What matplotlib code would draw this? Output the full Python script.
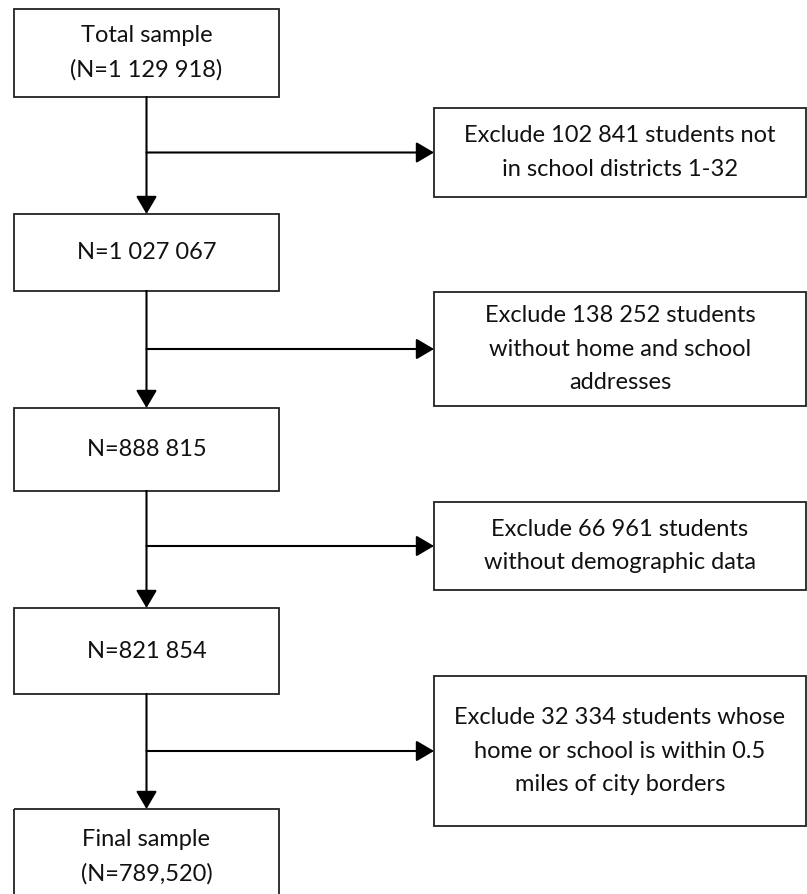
import matplotlib
matplotlib.use('Agg')
import matplotlib.pyplot as plt
from matplotlib.patches import Rectangle

# Flowchart content
main_labels = [
    "Total sample\n(N=1 129 918)",
    "N=1 027 067",
    "N=888 815",
    "N=821 854",
    "Final sample\n(N=789,520)",
]
exclude_labels = [
    "Exclude 102 841 students not\nin school districts 1-32",
    "Exclude 138 252 students\nwithout home and school\naddresses",
    "Exclude 66 961 students\nwithout demographic data",
    "Exclude 32 334 students whose\nhome or school is within 0.5\nmiles of city borders",
]

# Layout in pixel units (y grows downward)
W, H = 807, 894
left_x0, left_x1 = 14, 279
main_tops = [9, 214, 408, 608, 809]
main_bottoms = [97, 291, 491, 694, 920]
right_x0, right_x1 = 434, 806
excl_tops = [108, 292, 502, 676]
excl_bottoms = [197, 406, 590, 826]

FONT = 'Lato'
FS = 17
LINE = '#000000'

fig = plt.figure(figsize=(W / 100, H / 100), dpi=100)
ax = fig.add_axes([0, 0, 1, 1])
ax.set_xlim(0, W)
ax.set_ylim(H, 0)
ax.axis('off')


def draw_box(x0, y0, x1, y1, text):
    ax.add_patch(Rectangle((x0, y0), x1 - x0, y1 - y0, fill=False,
                           edgecolor='#222222', linewidth=1.3, clip_on=False))
    # last box runs off the bottom of the page, so place its text from the top
    cy = (y0 + y1) / 2 if y1 <= H else y0 + 48
    ax.text((x0 + x1) / 2, cy, text, ha='center', va='center',
            fontsize=FS, family=FONT, linespacing=1.72, color='#111111')


for lab, t, b in zip(main_labels, main_tops, main_bottoms):
    draw_box(left_x0, t, left_x1, b, lab)

for lab, t, b in zip(exclude_labels, excl_tops, excl_bottoms):
    draw_box(right_x0, t, right_x1, b, lab)

cx = (left_x0 + left_x1) / 2
arrow_kw = dict(arrowstyle='-|>,head_length=0.68,head_width=0.4', color=LINE,
                lw=1.5, shrinkA=0, shrinkB=0, mutation_scale=16)

# vertical arrows between main boxes
for i in range(len(main_labels) - 1):
    ax.annotate('', xy=(cx, main_tops[i + 1]), xytext=(cx, main_bottoms[i]),
                arrowprops=arrow_kw)

# horizontal branches to exclusion boxes
for t, b in zip(excl_tops, excl_bottoms):
    y = (t + b) / 2
    ax.annotate('', xy=(right_x0, y), xytext=(cx, y), arrowprops=arrow_kw)

fig.savefig('out.png', dpi=100, facecolor='white')
